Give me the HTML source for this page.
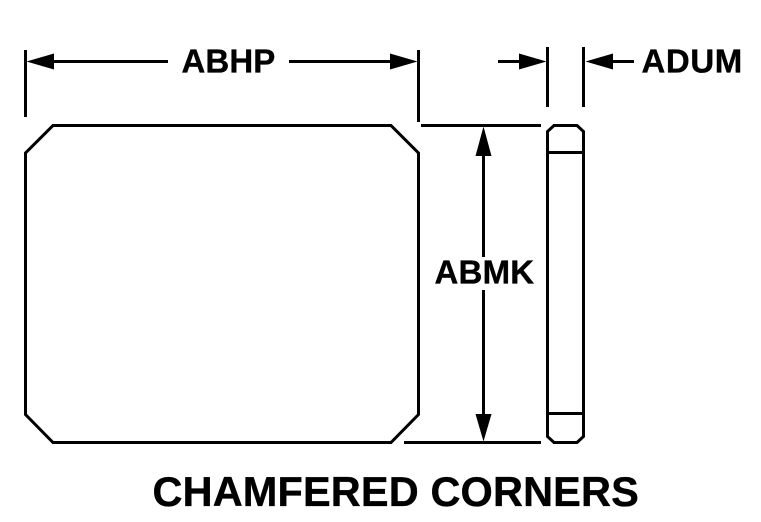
<!DOCTYPE html>
<html>
<head>
<meta charset="utf-8">
<style>
html,body{margin:0;padding:0;background:#fff;width:761px;height:522px;overflow:hidden}
svg{display:block}
text{font-family:"Liberation Sans",Arial,sans-serif;font-weight:bold;fill:#000;stroke:#000;stroke-width:.35px}
</style>
</head>
<body>
<svg width="761" height="522" viewBox="0 0 761 522" xmlns="http://www.w3.org/2000/svg">
<rect width="761" height="522" fill="#fff"/>
<g fill="none" stroke="#000" stroke-width="3">
<!-- main plate -->
<path d="M53 125.5H391L418.500 153V414.500L391 442.500H53L25.500 414.500V153Z"/>
<!-- side view -->
<path d="M554 125.500H577L583.500 131.500V436.500L577 442.500H554L547.500 436.500V131.500Z"/>
<path d="M548 152.500H583M548 413.500H583"/>
<!-- extension lines -->
<path d="M25.500 50V117M418.500 50V122M547.500 47V107M583.500 47V107"/>
<path d="M421 125.500H541M404 442.500H541"/>
<!-- dimension lines -->
<path d="M50 61.500H168M289 61.500H395M498 61.500H525M610 61.500H634"/>
<path d="M483.500 150V257M483.500 290V418"/>
</g>
<g fill="#000">
<path d="M26.500 61.500L54 53.500V69.500Z"/>
<path d="M417.500 61.500L390 53.500V69.500Z"/>
<path d="M546.500 61.500L519 53.500V69.500Z"/>
<path d="M585.500 61.500L613 53.500V69.500Z"/>
<path d="M483.500 126.500L475.500 156H491.500Z"/>
<path d="M483.500 441.500L475.500 414H491.500Z"/>
</g>
<text x="181.500" y="72.500" font-size="33" letter-spacing="0.100">ABHP</text>
<text x="641.500" y="72.500" font-size="33" letter-spacing="0.600">ADUM</text>
<text x="434.500" y="283.500" font-size="33" letter-spacing="0.200">ABMK</text>
<text x="152.500" y="506" font-size="41.500" letter-spacing="0.130">CHAMFERED CORNERS</text>
</svg>
</body>
</html>
